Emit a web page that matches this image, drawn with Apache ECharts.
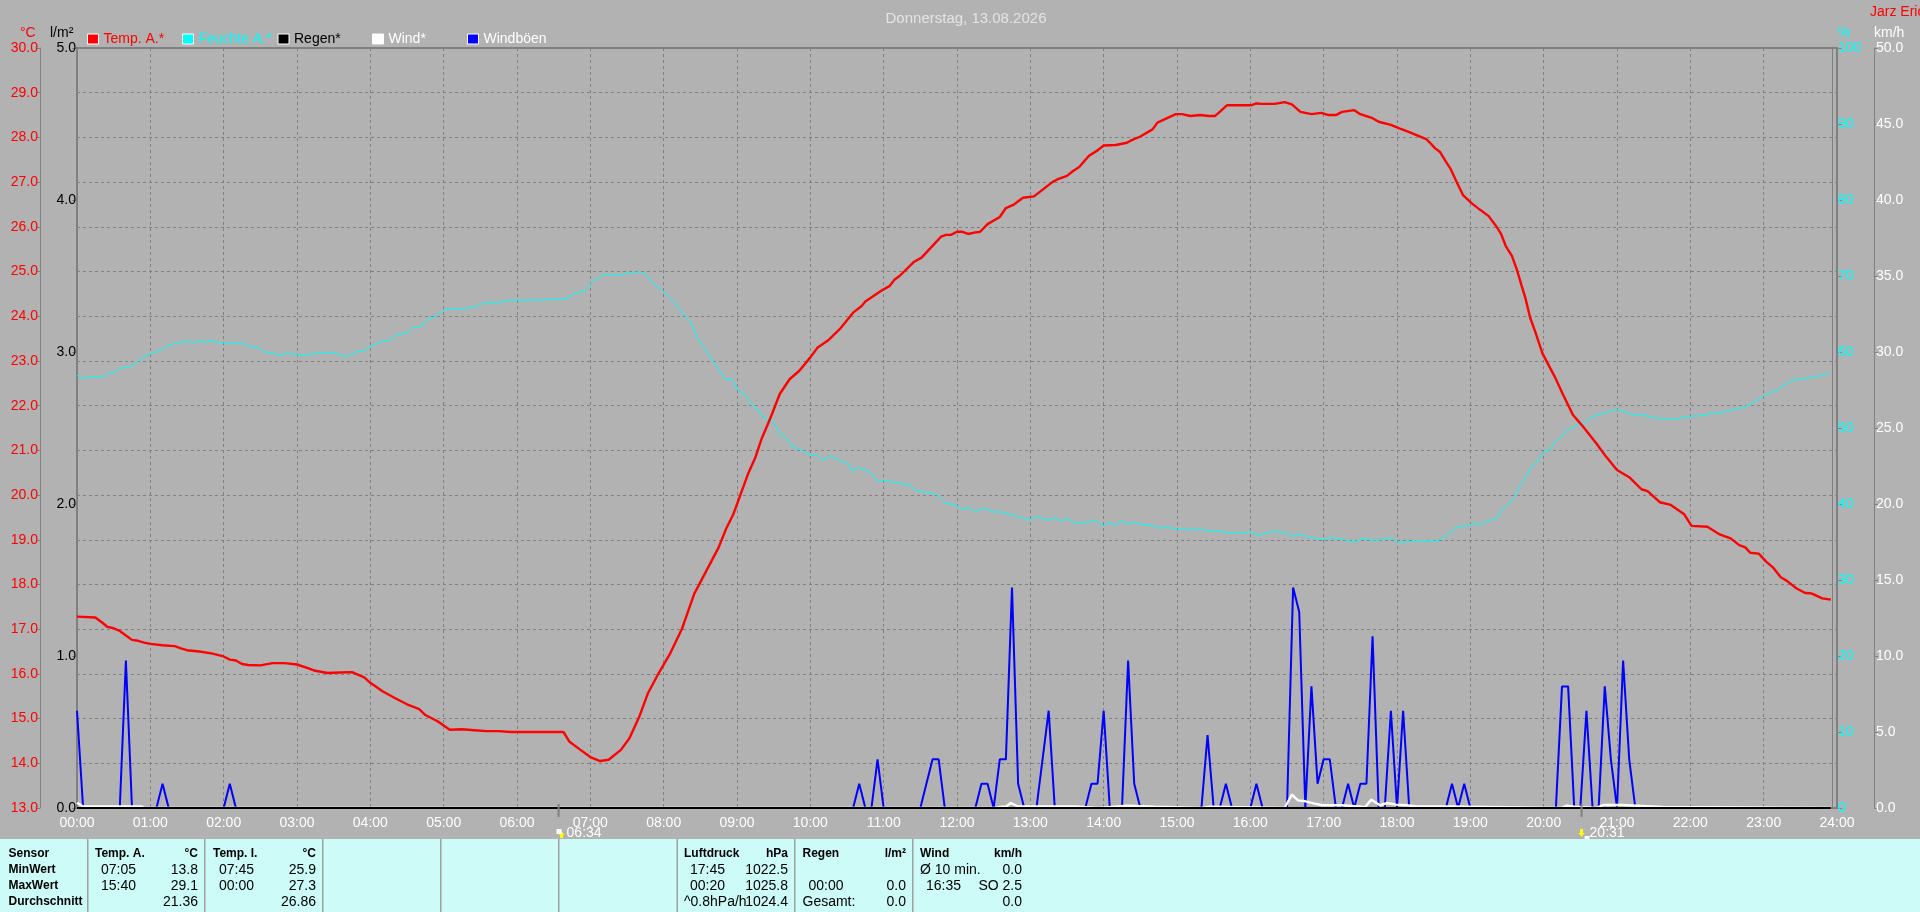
<!DOCTYPE html>
<html><head><meta charset="utf-8">
<style>html,body{margin:0;padding:0;background:#b2b2b2}#c{width:1920px;height:912px}</style>
<script src="https://cdn.jsdelivr.net/npm/echarts@6/dist/echarts.min.js"></script>
</head><body><div id="c"></div>
<script>
const titleText = 'Donnerstag, 13.08.2026';
const ownerText = 'Jarz Erich';
const seriesNames = ['Temp. A.*','Feuchte A.*','Regen*','Wind*','Windböen'];
const tempMin = [0,15,20,25,30,35,40,45,50,55,60,70,80,85,90,100,110,120,125,130,135,140,150,160,170,180,190,195,205,215,225,235,240,250,260,270,280,285,295,305,315,325,335,345,355,390,398,403,410,420,428,435,445,452,460,467,475,485,495,505,525,531,537,543,549,555,560,567,575,583,591,600,606,615,624,635,642,645,658,665,669,673,685,691,707,711,715,720,724,729,734,739,745,755,760,766,774,783,798,802,810,815,820,828,835,840,850,859,863,870,880,884,891,899,904,911,919,926,931,935,941,961,965,969,980,988,994,1001,1005,1010,1018,1024,1030,1035,1045,1050,1060,1065,1075,1082,1088,1096,1104,1107,1111,1115,1120,1124,1129,1134,1141,1148,1155,1161,1165,1169,1174,1178,1182,1185,1189,1193,1199,1209,1216,1224,1231,1243,1251,1260,1270,1280,1285,1295,1304,1315,1321,1334,1344,1353,1360,1365,1369,1376,1382,1388,1394,1399,1407,1414,1419,1428,1435];
const tempVal = [17.28,17.26,17.16,17.05,17.02,16.96,16.86,16.76,16.74,16.70,16.67,16.64,16.62,16.57,16.53,16.50,16.46,16.39,16.32,16.30,16.22,16.20,16.19,16.24,16.24,16.21,16.12,16.07,16.02,16.03,16.04,15.92,15.80,15.61,15.46,15.32,15.21,15.08,14.94,14.75,14.76,14.74,14.72,14.72,14.70,14.70,14.70,14.48,14.34,14.14,14.05,14.08,14.30,14.56,15.04,15.56,15.97,16.44,17.01,17.79,18.83,19.24,19.57,20.02,20.47,20.84,21.25,21.70,22.26,22.59,22.78,23.08,23.30,23.47,23.71,24.08,24.23,24.33,24.57,24.68,24.82,24.90,25.22,25.31,25.78,25.82,25.82,25.89,25.89,25.84,25.87,25.89,26.06,26.22,26.42,26.49,26.65,26.68,27.00,27.06,27.14,27.25,27.34,27.59,27.71,27.82,27.83,27.88,27.94,28.02,28.18,28.33,28.42,28.52,28.52,28.48,28.50,28.48,28.48,28.57,28.72,28.72,28.76,28.75,28.75,28.79,28.74,28.57,28.55,28.52,28.55,28.50,28.50,28.57,28.61,28.52,28.43,28.35,28.28,28.20,28.14,28.05,27.96,27.88,27.76,27.68,27.46,27.29,26.99,26.71,26.53,26.38,26.24,26.02,25.85,25.57,25.35,25.05,24.68,24.41,23.96,23.66,23.17,22.65,22.24,21.79,21.57,21.16,20.86,20.56,20.40,20.13,20.09,19.84,19.78,19.57,19.31,19.29,19.12,19.03,18.88,18.83,18.71,18.69,18.51,18.37,18.16,18.08,17.91,17.81,17.80,17.69,17.66];
const humMin = [0,5,9,22,24,31,35,45,53,58,67,73,82,88,97,100,105,109,116,124,136,142,150,155,161,166,170,176,180,191,195,211,221,229,236,241,251,255,262,270,275,281,285,293,301,317,326,330,346,353,372,400,406,416,421,431,444,452,461,465,471,480,489,497,502,508,518,530,536,541,547,551,556,560,570,575,581,585,591,600,606,610,616,631,634,640,649,655,666,676,681,685,703,710,720,724,730,735,741,751,755,766,780,785,795,800,805,810,815,824,830,835,840,845,850,855,860,864,870,880,886,891,899,910,915,920,925,934,940,954,959,965,970,978,989,995,1001,1007,1015,1022,1027,1038,1045,1053,1058,1065,1072,1076,1080,1090,1095,1112,1121,1129,1136,1142,1150,1155,1161,1166,1174,1180,1184,1189,1195,1200,1205,1210,1215,1219,1224,1234,1240,1251,1260,1268,1274,1280,1293,1307,1319,1332,1340,1345,1351,1360,1371,1381,1390,1404,1413,1423,1434];
const humVal = [56.93,56.49,56.75,56.75,57.1,57.32,57.85,58.16,59.17,59.6,60.13,60.74,61.23,61.36,61.27,61.49,61.27,61.49,61.27,61.1,61.1,60.7,60.48,59.9,59.82,59.56,59.78,59.78,59.56,59.69,59.82,59.82,59.38,60.04,60.26,60.83,61.49,61.49,62.28,62.46,63.24,63.24,64.12,64.65,65.61,65.74,65.88,66.31,66.53,66.8,66.84,66.93,67.63,68.07,69.17,70.22,70.09,70.44,70.53,70.26,69.12,67.94,66.49,64.74,63.99,61.8,59.38,56.45,56.4,54.91,54.34,53.11,52.72,51.62,50.75,49.17,48.64,47.54,47.24,46.45,46.36,45.7,46.36,45.22,44.38,44.78,44.17,43.11,42.94,42.59,42.63,41.84,41.27,40.17,39.78,39.25,39.52,38.95,39.52,38.9,39,38.5,37.89,38.33,37.85,38.2,37.76,38.16,37.59,37.5,37.72,37.68,37.11,37.54,37.24,37.85,37.33,37.63,37.33,37.2,36.8,37.02,36.67,36.8,36.54,36.76,36.4,36.49,36.27,36.14,36.36,35.97,36.01,36.36,36.27,35.75,36.01,35.7,35.44,35.44,35.57,35.26,35,35.48,35.26,35.22,35.53,35.44,35,35,35.22,35.13,35.88,37.02,37.1,37.41,37.33,37.85,38.03,39.21,40.4,42.28,43.16,44.69,45.57,46.89,47.11,48.29,48.86,49.65,50.17,50.74,51.49,52.06,52.45,52.02,51.66,51.75,51.31,51.14,51.53,51.66,52.1,51.93,52.28,52.54,53.24,54.34,54.91,56.31,56.49,56.71,57.28];
const gustMin = [0,5,35,40,45,65,70,75,120,125,130,635,640,645,650,655,660,690,700,705,710,735,740,745,750,755,760,765,770,775,785,790,795,800,825,830,835,840,845,855,860,865,870,920,925,930,935,940,945,960,965,970,990,995,1000,1005,1010,1015,1020,1025,1030,1035,1040,1045,1050,1055,1060,1065,1070,1075,1080,1085,1090,1120,1125,1130,1135,1140,1210,1215,1220,1225,1230,1235,1240,1245,1250,1255,1260,1265,1270,1275,1435];
const gustVal = [6.4,0,0,9.7,0,0,1.6,0,0,1.6,0,0,1.6,0,0,3.2,0,0,3.2,3.2,0,0,1.6,1.6,0,3.2,3.2,14.5,1.6,0,0,3.2,6.4,0,0,1.6,1.6,6.4,0,0,9.7,1.6,0,0,4.8,0,0,1.6,0,0,1.6,0,0,14.5,12.9,0,8,1.6,3.2,3.2,0,0,1.6,0,1.6,1.6,11.3,0,0,6.4,0,6.4,0,0,1.6,0,1.6,0,0,8,8,0,0,6.4,0,0,8,3.2,0,9.7,3.2,0,0];
const windMin = [0,5,53,55,751,752,757,758,760,764,770,817,818,836,837,859,882,883,920,921,927,928,988,989,994,999,1005,1012,1019,1035,1054,1059,1066,1072,1079,1087,1097,1121,1122,1214,1215,1219,1225,1226,1243,1244,1249,1264,1297,1298,1435];
const windVal = [0.35,0.1,0.1,0,0,0.08,0.08,0,0.08,0.33,0.1,0.1,0,0,0.08,0.15,0.08,0,0,0.08,0.08,0,0,0.1,0.88,0.5,0.44,0.3,0.18,0.18,0.07,0.55,0.18,0.33,0.22,0.18,0.1,0.1,0,0,0.08,0.15,0.08,0,0,0.08,0.2,0.2,0.07,0,0];
const rainMin = [0,1435];
const rainVal = [0,0];
const sunMarks = [{min:394,label:'06:34',rise:true},{min:1231,label:'20:31',rise:false}];
const dataEnd = 1436;
const tableColumns = [
  {x:8.5,right:0,bold:true,rows:['Sensor','MinWert','MaxWert','Durchschnitt']},
  {x:95,right:198,head:['Temp. A.','°C'],times:['07:05','15:40',''],vals:['13.8','29.1','21.36']},
  {x:213,right:316,head:['Temp. I.','°C'],times:['07:45','00:00',''],vals:['25.9','27.3','26.86']},
  {x:684,right:788,head:['Luftdruck','hPa'],times:['17:45','00:20','^0.8hPa/h'],vals:['1022.5','1025.8','1024.4'],leftLast:true},
  {x:802.5,right:906,head:['Regen','l/m²'],times:['','00:00','Gesamt:'],vals:['','0.0','0.0'],leftLast:true},
  {x:920,right:1022,head:['Wind','km/h'],times:['Ø 10 min.','16:35',''],vals:['0.0','SO 2.5','0.0'],leftFirst:true}
];
const separators = [88,205,323,441,559,677.5,795,913];

const NARROW = '"Liberation Sans Narrow","Liberation Sans",sans-serif';
const BOLD = '"Liberation Sans",sans-serif';
const GRID = '#808080';
const zip = (a,b) => a.map((m,i)=>[m,b[i]]);
const pad = n => String(n).padStart(2,'0');
const chart = echarts.init(document.getElementById('c'),null,{renderer:'canvas'});
const lbl = (color,margin) => ({color,fontFamily:NARROW,fontSize:14,margin,formatter:v=>v.toFixed(1)});
const dash = {type:[3,3],color:GRID,width:1};
const hideAxisName = {};
function legendAt(left,name,color){
  return {show:true,left,top:32,orient:'horizontal',padding:0,itemWidth:11,itemHeight:10,itemGap:4,selectedMode:false,
    data:[{name,icon:'rect',itemStyle:{borderColor:'#fff',borderWidth:1},textStyle:{color}}],
    textStyle:{fontFamily:NARROW,fontSize:14,color}};
}
const option = {
  animation:false,
  backgroundColor:'#b2b2b2',
  title:[{text:titleText,left:961,top:6,textAlign:'center',textStyle:{color:'#e4e4e4',fontWeight:'normal',fontFamily:BOLD,fontSize:15}}],
  legend:[legendAt(87,seriesNames[0],'#ff0000'),legendAt(182,seriesNames[1],'#00ffff'),legendAt(277.5,seriesNames[2],'#000000'),legendAt(372,seriesNames[3],'#ffffff'),legendAt(467,seriesNames[4],'#ffffff')],
  grid:{left:77,right:83,top:48,bottom:104,show:true,borderColor:GRID,borderWidth:2,backgroundColor:'transparent',containLabel:false},
  xAxis:{type:'value',min:0,max:1440,interval:60,axisLine:{show:false},axisTick:{show:false},
    axisLabel:{color:'#ffffff',fontFamily:NARROW,fontSize:14,margin:8,formatter:v=>pad(v/60)+':00',showMinLabel:true,showMaxLabel:true},
    splitLine:{show:true,lineStyle:dash}},
  yAxis:[
    {type:'value',position:'left',offset:37,min:13,max:30,interval:1,axisLine:{show:true,onZero:false,lineStyle:{color:GRID,width:1}},axisTick:{show:true,length:4,lineStyle:{color:GRID}},axisLabel:lbl('#ff0000',2),splitLine:{show:true,lineStyle:dash}},
    {type:'value',position:'left',offset:0,min:0,max:5,interval:1,axisLine:{show:false},axisTick:{show:true,length:5,lineStyle:{color:GRID}},axisLabel:lbl('#000000',1),splitLine:{show:false}},
    {type:'value',position:'right',offset:0,min:0,max:100,interval:10,axisLine:{show:false},axisTick:{show:true,length:5,lineStyle:{color:GRID}},axisLabel:{color:'#00ffff',fontFamily:NARROW,fontSize:14,margin:1},splitLine:{show:false}},
    {type:'value',position:'right',offset:37,min:0,max:50,interval:5,axisLine:{show:true,onZero:false,lineStyle:{color:GRID,width:1}},axisTick:{show:true,length:4,lineStyle:{color:GRID}},axisLabel:lbl('#ffffff',2),splitLine:{show:false}}
  ],
  series:[
    {name:seriesNames[4],type:'line',yAxisIndex:3,data:zip(gustMin,gustVal),showSymbol:false,z:3,lineStyle:{color:'#0000ff',width:2},itemStyle:{color:'#0000ff'}},
    {name:seriesNames[1],type:'line',yAxisIndex:2,data:zip(humMin,humVal),showSymbol:false,z:4,lineStyle:{color:'#00ffff',width:1},itemStyle:{color:'#00ffff'}},
    {name:seriesNames[0],type:'line',yAxisIndex:0,data:zip(tempMin,tempVal),showSymbol:false,z:5,lineStyle:{color:'#ff0000',width:2.4},itemStyle:{color:'#ff0000'}},
    {name:seriesNames[3],type:'line',yAxisIndex:3,data:zip(windMin,windVal),showSymbol:false,z:6,lineStyle:{color:'#ffffff',width:2.4},itemStyle:{color:'#ffffff'}},
    {name:seriesNames[2],type:'line',yAxisIndex:1,data:zip(rainMin,rainVal),showSymbol:false,z:7,lineStyle:{color:'#000000',width:2},itemStyle:{color:'#000000'},
      markLine:{silent:true,symbol:'none',label:{show:false},lineStyle:{color:GRID,width:1,type:'solid'},data:[{xAxis:dataEnd}],z:2}}
  ]
};
chart.setOption(option);

function text(x,y,s,o){
  return {type:'text',x,y,silent:true,z:20,style:Object.assign({text:s,fontFamily:NARROW,fontSize:14,fill:'#000',textVerticalAlign:'middle',textBaseline:'middle'},o||{})};
}
const g = [];
g.push({type:'rect',silent:true,z:10,shape:{x:0,y:839,width:1920,height:73},style:{fill:'#ccfbf8'}});
separators.forEach(x=>g.push({type:'rect',silent:true,z:11,shape:{x:x-1,y:839,width:1.5,height:73},style:{fill:'#a0a0a0'}}));
const ROWS = [854,870,886,902];
const bold = {fontFamily:BOLD,fontWeight:'bold',fontSize:12};
tableColumns.forEach(c=>{
  if(c.rows){ c.rows.forEach((t,i)=>g.push(text(c.x,ROWS[i],t,bold))); return; }
  g.push(text(c.x,ROWS[0],c.head[0],bold));
  g.push(text(c.right,ROWS[0],c.head[1],Object.assign({align:'right',textAlign:'right'},bold)));
  c.times.forEach((t,i)=>{
    if(t){
      const flush = (c.leftLast&&i===2)||(c.leftFirst&&i===0);
      g.push(text(flush?c.x:c.x+6,ROWS[i+1],t));
    }
    if(c.vals[i]) g.push(text(c.right,ROWS[i+1],c.vals[i],{align:'right',textAlign:'right'}));
  });
});
g.push(text(1870,12,ownerText,{fill:'#ff0000',fontSize:14}));
g.push(text(20,33,'°C',{fill:'#ff0000'}));
g.push(text(50,33,'l/m²',{fill:'#000000'}));
g.push(text(1838,33,'%',{fill:'#00ffff'}));
g.push(text(1874,33,'km/h',{fill:'#ffffff'}));
sunMarks.forEach(s=>{
  const px = chart.convertToPixel({xAxisIndex:0},s.min);
  g.push({type:'rect',silent:true,z:9,shape:{x:px-1,y:804,width:2,height:13},style:{fill:'#808080'}});
  const ax = s.rise?px+3:px, sx = s.rise?px-2:px+3;
  const pts = s.rise?[[ax,831],[ax+3,835],[ax+1.5,835],[ax+1.5,838],[ax-1.5,838],[ax-1.5,835],[ax-3,835]]
                    :[[ax-1.5,829],[ax+1.5,829],[ax+1.5,833],[ax+3,833],[ax,837],[ax-3,833],[ax-1.5,833]];
  g.push({type:'polygon',silent:true,z:9,shape:{points:pts},style:{fill:'#ffff00'}});
  g.push({type:'rect',silent:true,z:9,shape:{x:sx,y:s.rise?829:836,width:5,height:5},style:{fill:'#ffffff'}});
  g.push(text(px+8,833,s.label,{fill:'#ffffff'}));
});
chart.setOption({graphic:{elements:g}});
</script></body></html>
